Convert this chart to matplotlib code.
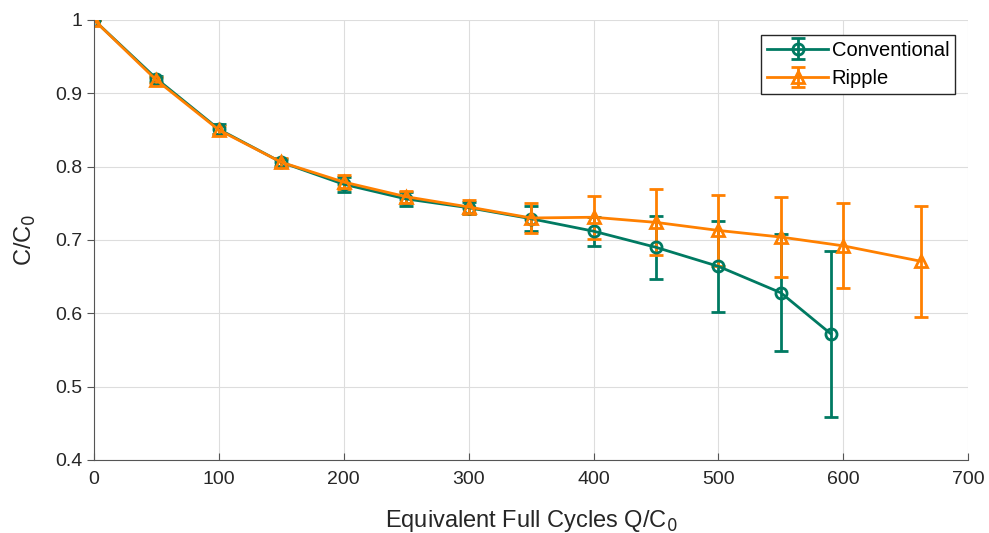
import numpy as np
import matplotlib
matplotlib.use("Agg")
import matplotlib.pyplot as plt
from matplotlib.ticker import FormatStrFormatter

plt.rcParams['font.family'] = ['Liberation Sans', 'DejaVu Sans']

# data
conv_x = [0, 50, 100, 150, 200, 250, 300, 350, 400, 450, 500, 550, 590]
conv_y = [1.0, 0.920, 0.851, 0.806, 0.776, 0.756, 0.744, 0.729, 0.712, 0.690, 0.664, 0.628, 0.572]
conv_err = [0.0, 0.004, 0.007, 0.005, 0.010, 0.010, 0.008, 0.017, 0.020, 0.043, 0.062, 0.080, 0.113]

rip_x = [0, 50, 100, 150, 200, 250, 300, 350, 400, 450, 500, 550, 600, 662]
rip_y = [1.0, 0.918, 0.850, 0.806, 0.779, 0.759, 0.745, 0.730, 0.731, 0.724, 0.713, 0.704, 0.692, 0.671]
rip_err = [0.0, 0.004, 0.006, 0.006, 0.010, 0.008, 0.010, 0.021, 0.029, 0.045, 0.049, 0.055, 0.058, 0.076]

green = "#007a62"
orange = "#ff8000"

fig = plt.figure(figsize=(9.89, 5.33), dpi=100)
ax = fig.add_axes([0.095, 0.137, 0.884, 0.8255])

ax.errorbar(conv_x, conv_y, yerr=conv_err, color=green, marker="o", ms=8,
            mfc="none", mew=2, lw=2, capsize=5, capthick=2, elinewidth=2,
            label="Conventional")
ax.errorbar(rip_x, rip_y, yerr=rip_err, color=orange, marker="^", ms=9,
            mfc="none", mew=2, lw=2, capsize=5, capthick=2, elinewidth=2,
            label="Ripple")

ax.set_xlim(0, 700)
ax.set_ylim(0.4, 1.0)
ax.set_xticks(np.arange(0, 701, 100))
ax.set_yticks(np.arange(0.4, 1.01, 0.1))
ax.yaxis.set_major_formatter(FormatStrFormatter("%g"))
ax.grid(True, color="#dddddd", lw=0.8)
ax.set_axisbelow(True)

for s in ["top", "right"]:
    ax.spines[s].set_visible(False)
for s in ["left", "bottom"]:
    ax.spines[s].set_color("#555555")
ax.tick_params(axis="x", direction="in", length=5, colors="#555555", labelcolor="#262626", labelsize=14, pad=8)
ax.tick_params(axis="y", direction="out", length=5, colors="#555555", labelcolor="#262626", labelsize=14)

ax.set_xlabel("Equivalent Full Cycles Q/C$_0$", fontsize=17, color="#262626", labelpad=14)
ax.set_ylabel("C/C$_0$", fontsize=17, color="#262626", labelpad=12)

leg = ax.legend(loc="upper right", bbox_to_anchor=(0.99, 0.976), fontsize=14.5,
                fancybox=False, framealpha=1, edgecolor="#262626",
                handlelength=3.0, borderpad=0.3, labelspacing=0.45, handletextpad=0.2,
                borderaxespad=0.2)
leg.get_frame().set_linewidth(1)

fig.savefig("out.png", dpi=100)
